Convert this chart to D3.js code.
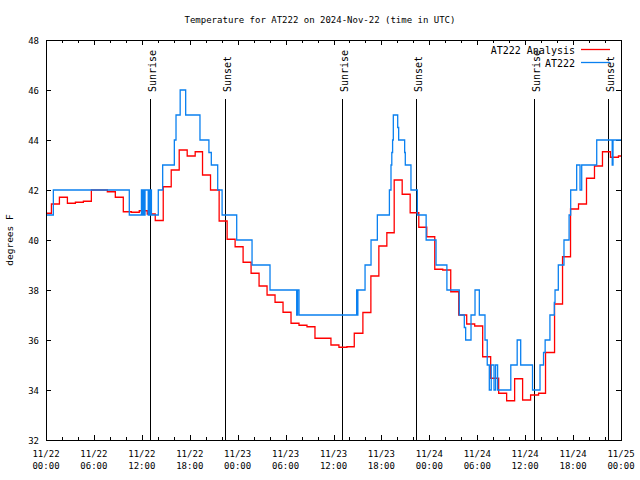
<!DOCTYPE html>
<html><head><meta charset="utf-8">
<script src="https://cdn.jsdelivr.net/npm/d3@7"></script>
<style>body{margin:0;background:#fff}svg{display:block}</style>
</head><body>
<svg id="c" width="640" height="480"></svg>
<script>
const titleText = "Temperature for AT222 on 2024-Nov-22 (time in UTC)";
const yLabelText = "degrees F";
const startTime = "2024-11-22T00:00:00Z";
const endTime = "2024-11-25T00:00:00Z";
const yTickValues = [32, 34, 36, 38, 40, 42, 44, 46, 48];
const seriesNames = ["AT222 Analysis", "AT222"];
const seriesColors = ["#ff0000", "#0a80f0"];

// AT222 Analysis (hours after start, °F)
const analysisHours = [0,0.68,1.68,2.68,3.68,4.68,5.68,7.68,8.68,9.68,10.68,11.68,12.68,13.68,14.68,15.68,16.68,17.68,18.68,19.6,20.6,21.68,22.68,23.68,24.68,25.68,26.68,27.68,28.68,29.68,30.68,31.68,32.68,33.68,35.68,36.68,37.68,38.6,39.68,40.68,41.68,42.68,43.6,44.6,45.6,46.68,47.68,48.68,49.68,50.68,51.68,52.68,53.68,54.68,55.68,56.68,57.68,58.68,59.68,60.68,61.68,62.55,63.68,64.68,65.68,66.68,67.68,68.68,69.68,70.68,71.68,72];
const analysisValues = [41.07,41.44,41.71,41.47,41.51,41.55,42.0,41.93,41.71,41.13,41.11,41.17,41.04,40.78,42.13,42.8,43.6,43.36,43.53,42.6,42.0,40.76,40.03,39.73,39.11,38.67,38.16,37.8,37.51,37.11,36.67,36.59,36.53,36.07,35.8,35.71,35.73,36.27,37.1,38.56,39.76,40.29,42.4,41.83,41.09,40.51,40.13,38.83,38.8,37.93,37.0,36.64,36.56,35.33,34.47,33.87,33.57,34.45,33.6,33.8,33.87,35.5,37.44,39.33,41.24,41.44,42.47,42.96,43.53,43.31,43.36,43.36];

// AT222 observations (hours after start, °F)
const obsHours = [0,0.92,10.43,11.95,12.05,12.2,12.3,12.4,12.8,12.9,13.0,13.1,13.2,14.06,14.61,16.07,16.28,16.8,17.49,19.28,20.4,20.7,21.5,22.05,23.88,25.8,28.05,31.39,31.5,31.68,38.9,39.0,39.05,39.95,40.7,41.49,43.0,43.2,43.3,43.4,43.49,44.04,44.16,44.91,44.99,45.7,46.5,47.6,48.84,50.2,51.75,52.38,52.55,53.22,53.72,54.26,54.97,55.25,55.51,55.75,56.1,56.3,56.55,58.2,59.0,59.44,60.92,61.86,62.3,62.5,63.1,63.65,63.74,64.15,64.86,65.5,65.7,66.45,66.87,67.08,68.96,70.9,71.0,72];
const obsValues = [41,42,41,42,41,42,41,42,41,42,41,42,41,42,43,44,45,46,45,44,43.5,43,42,41,40,39,38,37,38,37,38,37,38,39,40,41,42,43,43.5,44,45,44.5,44,43.5,43,42,41,40,39,38,37,36.5,36,37,38,37,36,35,34,35,34,35,34,35,36,35,34,35,35.5,36,37,37.5,38,39,40,41,42,43,42,43,44,43,44,44];

const sunLabels = ["Sunrise","Sunset","Sunrise","Sunset","Sunrise","Sunset"];
const sunHours = [13.06, 22.45, 37.10, 46.37, 61.15, 70.41];

const W = 640, H = 480;
const L = 46, R = 621, T = 40, B = 440;
const FONT = "'DejaVu Sans Mono', 'Liberation Mono', monospace";
const svg = d3.select("#c");
svg.append("rect").attr("width", W).attr("height", H).attr("fill", "#fff");

const t0 = new Date(startTime), t1 = new Date(endTime);
const hToDate = h => new Date(t0.getTime() + h * 3600000);
const x = d3.scaleUtc().domain([t0, t1]).range([L, R]);
const y = d3.scaleLinear().domain([32, 48]).range([B, T]);

const g = svg.append("g");

// ticks
const major = d3.utcHour.every(6).range(t0, new Date(t1.getTime() + 1));
const minor = d3.utcHour.every(2).range(t0, new Date(t1.getTime() + 1)).filter(d => d.getUTCHours() % 6 !== 0);
const tickG = g.append("g").attr("stroke", "#000").attr("stroke-width", 1).attr("shape-rendering", "crispEdges");
major.forEach(d => {
  const px = Math.round(x(d)) + 0.5;
  tickG.append("line").attr("x1", px).attr("x2", px).attr("y1", B).attr("y2", B - 5);
  tickG.append("line").attr("x1", px).attr("x2", px).attr("y1", T).attr("y2", T + 5);
});
minor.forEach(d => {
  const px = Math.round(x(d)) + 0.5;
  tickG.append("line").attr("x1", px).attr("x2", px).attr("y1", B).attr("y2", B - 3);
  tickG.append("line").attr("x1", px).attr("x2", px).attr("y1", T).attr("y2", T + 3);
});
yTickValues.forEach(v => {
  const py = Math.round(y(v)) + 0.5;
  tickG.append("line").attr("x1", L).attr("x2", L + 5).attr("y1", py).attr("y2", py);
  tickG.append("line").attr("x1", R).attr("x2", R - 5).attr("y1", py).attr("y2", py);
});

// tick labels
const fmtDate = d3.utcFormat("%m/%d"), fmtTime = d3.utcFormat("%H:%M");
major.forEach(d => {
  const tx = g.append("text").attr("x", x(d)).attr("y", 457).attr("text-anchor", "middle")
    .attr("font-family", FONT).attr("font-size", 9).attr("fill", "#000");
  tx.append("tspan").attr("x", x(d)).attr("y", 457).text(fmtDate(d));
  tx.append("tspan").attr("x", x(d)).attr("y", 469).text(fmtTime(d));
});
yTickValues.forEach(v => {
  g.append("text").attr("x", 39).attr("y", y(v) + 3.5).attr("text-anchor", "end")
    .attr("font-family", FONT).attr("font-size", 9).attr("fill", "#000").text(v);
});

// sunrise / sunset
sunHours.forEach((h, i) => {
  const px = Math.round(x(hToDate(h))) + 0.5;
  g.append("line").attr("x1", px).attr("x2", px).attr("y1", 99).attr("y2", B)
    .attr("stroke", "#000").attr("stroke-width", 1).attr("shape-rendering", "crispEdges");
  g.append("text").attr("transform", `translate(${px},92) rotate(-90)`).attr("dy", "0.5em")
    .attr("font-family", FONT).attr("font-size", 10).attr("fill", "#000").text(sunLabels[i]);
});

// series
const line = d3.line().curve(d3.curveStepAfter).x(d => x(hToDate(d[0]))).y(d => y(d[1]));
const series = [
  d3.zip(analysisHours, analysisValues),
  d3.zip(obsHours, obsValues)
];
series.forEach((s, i) => {
  g.append("path").datum(s).attr("d", line).attr("fill", "none")
    .attr("stroke", seriesColors[i]).attr("stroke-width", 1.3);
});

// frame
g.append("rect").attr("x", L + 0.5).attr("y", T + 0.5).attr("width", R - L).attr("height", B - T)
  .attr("fill", "none").attr("stroke", "#000").attr("stroke-width", 1).attr("shape-rendering", "crispEdges");

// legend
seriesNames.forEach((n, i) => {
  const ly = 49.5 + i * 13;
  g.append("text").attr("x", 575).attr("y", ly + 4).attr("text-anchor", "end")
    .attr("font-family", FONT).attr("font-size", 10).attr("fill", "#000").text(n);
  g.append("line").attr("x1", 581).attr("x2", 610).attr("y1", ly).attr("y2", ly)
    .attr("stroke", seriesColors[i]).attr("stroke-width", 1.3);
});

// title and axis label
svg.append("text").attr("x", 320).attr("y", 23).attr("text-anchor", "middle")
  .attr("font-family", FONT).attr("font-size", 9).attr("fill", "#000").text(titleText);
svg.append("text").attr("transform", "translate(13,240) rotate(-90)").attr("text-anchor", "middle")
  .attr("font-family", FONT).attr("font-size", 9.5).attr("fill", "#000").text(yLabelText);
</script>
</body></html>
